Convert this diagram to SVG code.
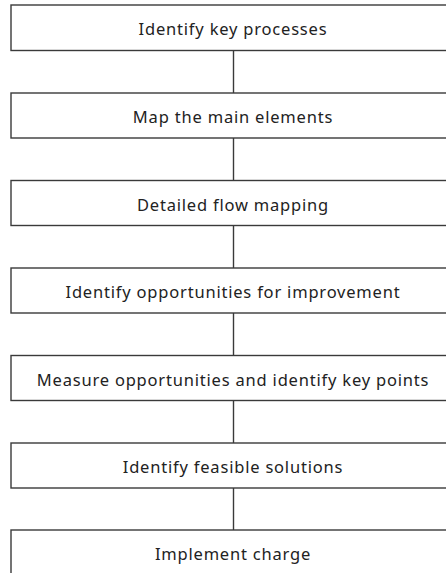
<svg xmlns="http://www.w3.org/2000/svg" width="446" height="573" viewBox="0 0 446 573">
<style>
.box{fill:#fff;stroke:#3a3a3a;stroke-width:1.4}
.lbl{font-family:"Noto Sans","Liberation Sans",Arial,sans-serif;font-size:16.5px;letter-spacing:0.8px;fill:#222;text-anchor:middle}
.conn{stroke:#3a3a3a;stroke-width:1.4;fill:none}
</style>
<rect width="446" height="573" fill="#fff"/>
<g id="connectors">
<line class="conn" x1="233.5" y1="50.5" x2="233.5" y2="93"/>
<line class="conn" x1="233.5" y1="138" x2="233.5" y2="180.5"/>
<line class="conn" x1="233.5" y1="225.5" x2="233.5" y2="268"/>
<line class="conn" x1="233.5" y1="313" x2="233.5" y2="355.5"/>
<line class="conn" x1="233.5" y1="400.5" x2="233.5" y2="443"/>
<line class="conn" x1="233.5" y1="488" x2="233.5" y2="530"/>
</g>
<g id="n1"><rect class="box" x="11" y="5" width="444" height="45.5"/><text class="lbl" x="233" y="35">Identify key processes</text></g>
<g id="n2"><rect class="box" x="11" y="93" width="444" height="45"/><text class="lbl" x="233" y="123">Map the main elements</text></g>
<g id="n3"><rect class="box" x="11" y="180.5" width="444" height="45"/><text class="lbl" x="233" y="210.5">Detailed flow mapping</text></g>
<g id="n4"><rect class="box" x="11" y="268" width="444" height="45"/><text class="lbl" x="233" y="298">Identify opportunities for improvement</text></g>
<g id="n5"><rect class="box" x="11" y="355.5" width="444" height="45"/><text class="lbl" x="233" y="385.5">Measure opportunities and identify key points</text></g>
<g id="n6"><rect class="box" x="11" y="443" width="444" height="45"/><text class="lbl" x="233" y="473">Identify feasible solutions</text></g>
<g id="n7"><rect class="box" x="11" y="530" width="444" height="46"/><text class="lbl" x="233" y="560">Implement charge</text></g>
</svg>
